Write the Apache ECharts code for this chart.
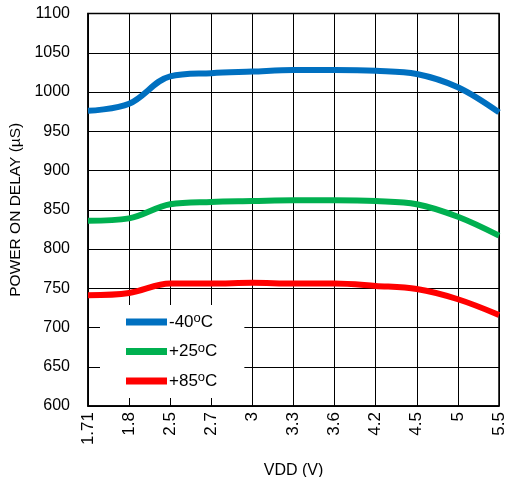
<!DOCTYPE html>
<html><head><meta charset="utf-8">
<script src="https://cdn.jsdelivr.net/npm/echarts@6/dist/echarts.min.js"></script>
<style>html,body{margin:0;padding:0;background:#fff}#c{width:506px;height:477px}</style>
</head><body><div id="c"></div>
<script>
var categories = ['1.71','1.8','2.5','2.7','3','3.3','3.6','4.2','4.5','5','5.5'];
var seriesNames = ['-40oC','+25oC','+85oC'];
var valsM40 = [976, 985, 1020, 1024, 1026, 1028, 1028, 1027, 1023, 1006, 974];
var valsP25 = [836, 839, 857, 860, 861, 862, 862, 861, 857, 841, 817];
var valsP85 = [741, 744, 756, 756, 757, 756, 756, 753, 749, 736, 716];
var colors = ['#0070C0', '#00B050', '#FF0000'];
var yMin = 600, yMax = 1100, yStep = 50;

var font = 'Liberation Sans';
var chart = echarts.init(document.getElementById('c'));
function mk(name, data, color) {
  return { name: name, type: 'line', data: data, smooth: 0.35, showSymbol: false,
    lineStyle: { color: color, width: 6 }, itemStyle: { color: color } };
}
chart.setOption({
  animation: false,
  backgroundColor: '#fff',
  grid: { left: 88, right: 7, top: 13.5, bottom: 71, show: true, borderColor: '#000', borderWidth: 1.5,
    outerBoundsMode: 'none', containLabel: false },
  legend: {
    orient: 'vertical', left: 100, top: 305, backgroundColor: '#fff',
    padding: [7, 27, 7, 26], itemWidth: 41, itemHeight: 7, itemGap: 9.5, icon: 'rect',
    formatter: function (n) { return n.replace('oC', '{sup|o}C'); },
    textStyle: { fontFamily: font, fontSize: 17, color: '#000', lineHeight: 20, padding: [0,0,0,-3],
      rich: { sup: { fontFamily: font, fontSize: 13, lineHeight: 13, color: '#000', verticalAlign: 'top', padding: [0,0,5,0] } } },
    data: seriesNames
  },
  xAxis: {
    type: 'category', data: categories, boundaryGap: false,
    name: 'VDD (V)', nameLocation: 'middle', nameGap: 57,
    nameTextStyle: { fontFamily: font, fontSize: 16, color: '#000' },
    axisLine: { lineStyle: { color: '#000', width: 1.5 } },
    axisTick: { show: false },
    axisLabel: { rotate: 90, margin: 6, fontFamily: font, fontSize: 17, color: '#000', interval: 0 },
    splitLine: { show: true, lineStyle: { color: '#000', width: 1 } }
  },
  yAxis: {
    type: 'value', min: yMin, max: yMax, interval: yStep,
    name: 'POWER ON DELAY (µS)', nameLocation: 'middle', nameGap: 64,
    nameTextStyle: { fontFamily: font, fontSize: 15.5, color: '#000' },
    axisLine: { show: true, lineStyle: { color: '#000', width: 1.5 } },
    axisTick: { show: false },
    axisLabel: { margin: 18, fontFamily: font, fontSize: 16, color: '#000', formatter: function (v) { return String(v); } },
    splitLine: { show: true, lineStyle: { color: '#000', width: 1 } }
  },
  series: [mk(seriesNames[0], valsM40, colors[0]), mk(seriesNames[1], valsP25, colors[1]), mk(seriesNames[2], valsP85, colors[2])]
});
</script></body></html>
